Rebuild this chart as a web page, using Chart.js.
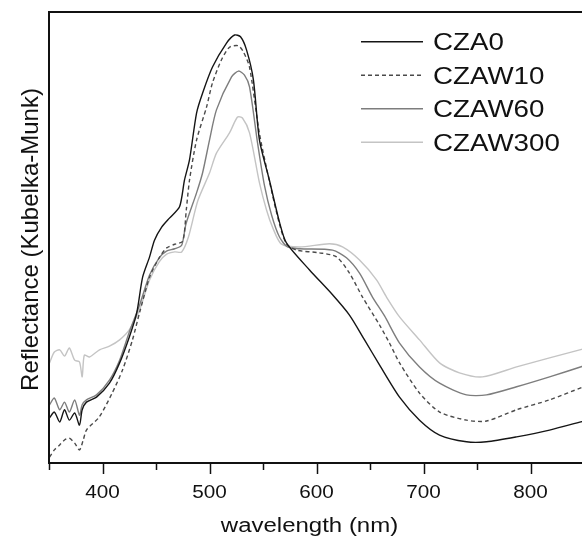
<!DOCTYPE html>
<html>
<head>
<meta charset="utf-8">
<script src="https://cdn.jsdelivr.net/npm/chart.js@4.4.0/dist/chart.umd.min.js"></script>
<style>
    html, body { margin: 0; padding: 0; background: #fff; overflow: hidden; }
    #wrap { width: 584px; height: 538px; }
</style>
</head>
<body>
<div id="wrap"><canvas id="myChart"></canvas></div>
<script>
"use strict";

// wavelength (nm) and reflectance (arbitrary units)
var labels = ['CZA0', 'CZAW10', 'CZAW60', 'CZAW300'];
var xTicks = [400, 500, 600, 700, 800];
var xTitle = 'wavelength (nm)';
var yTitle = 'Reflectance (Kubelka-Munk)';

var cza0X = [350.5, 355, 360, 364.5, 369, 374, 378.5, 381, 385, 394.4, 406.5, 416, 425, 432, 437.5, 444, 448.6, 455.3, 462.6, 472, 476.6, 481.3, 487.9, 493.5, 502.8, 515.9, 523.4, 529, 534.6, 541, 546.7, 556, 565.4, 571.9, 593.5, 615, 630.8, 644.9, 659, 677.6, 696.3, 715, 740.2, 758.9, 787, 817.8, 849.5];
var cza0Y = [10.0, 11.3, 9.1, 11.8, 9.5, 11.1, 8.4, 11.8, 13.5, 14.6, 17.7, 22.2, 27.9, 33.3, 41.2, 45.7, 49.4, 52.3, 54.3, 56.8, 62.7, 67.2, 77.6, 82.0, 87.8, 93.1, 94.9, 94.5, 91.6, 85.0, 71.6, 62.7, 53.4, 48.8, 42.8, 37.3, 32.8, 27.3, 21.7, 14.6, 9.5, 6.2, 4.7, 4.7, 5.8, 7.3, 9.3];

var czaw10X = [350.5, 355, 360, 364.5, 369, 374, 378.5, 382, 385, 397, 409, 418.7, 428, 434.6, 444, 453, 460, 467.5, 475, 478.3, 481.3, 487.9, 497.2, 502.8, 511.2, 518.7, 527.1, 531.8, 537.4, 546.7, 556, 565.4, 571.9, 581.3, 602.8, 618.7, 630.8, 643, 658.9, 668.2, 677.6, 696.3, 715, 740.2, 758.9, 787, 817.8, 849.5];
var czaw10Y = [1.3, 2.9, 4.0, 5.1, 5.5, 4.4, 2.9, 5.1, 7.3, 10.2, 15.5, 20.6, 27.3, 33.3, 41.2, 45.5, 47.7, 48.5, 49.2, 56.1, 62.7, 71.6, 78.9, 84.3, 89.4, 92.2, 92.5, 91.1, 87.8, 73.0, 62.5, 53.0, 48.6, 47.2, 46.6, 45.7, 42.1, 36.8, 30.6, 26.6, 22.2, 15.5, 11.3, 9.5, 9.3, 11.8, 14.0, 16.9];

var czaw60X = [350.5, 355, 360, 364.5, 369, 374, 378.5, 381, 385, 394.4, 406.5, 416, 425, 434.6, 444, 453, 459.8, 467.5, 474, 478, 487.9, 493.5, 500, 506.5, 520.6, 527.1, 532.7, 537.4, 544.9, 551.4, 558, 565.4, 572.9, 584.1, 615, 628, 640.2, 652.3, 663.6, 677.6, 696.3, 715, 740.2, 758.9, 787, 817.8, 849.5];
var czaw60Y = [12.9, 14.4, 11.8, 13.5, 11.3, 14.0, 10.6, 12.9, 14.0, 15.1, 18.4, 22.8, 29.0, 35.0, 41.7, 45.5, 47.0, 47.5, 48.3, 53.0, 59.9, 64.3, 71.6, 78.3, 85.6, 86.9, 86.0, 83.4, 71.0, 61.5, 55.0, 50.1, 47.9, 47.5, 47.2, 45.5, 42.1, 36.8, 32.6, 26.6, 21.3, 17.7, 15.1, 15.1, 16.9, 19.1, 21.5];

var czaw300X = [350.5, 355, 360, 364.5, 369, 374, 378.5, 381, 383, 387.9, 397.2, 406.5, 416, 425, 434.6, 444, 453, 460, 467.5, 474, 480.3, 489, 500, 506.5, 518.7, 526.2, 530.8, 537.4, 546.7, 553.3, 558.9, 567, 584.1, 612.1, 624.3, 640.2, 656.1, 665.4, 677.6, 696.3, 715, 733.6, 755.1, 787, 817.8, 849.5];
var czaw300Y = [22.2, 24.6, 25.1, 23.7, 25.5, 22.8, 22.4, 19.1, 23.9, 23.5, 25.1, 25.9, 27.3, 29.5, 33.9, 40.6, 44.6, 46.3, 46.8, 46.8, 50.1, 58.1, 64.3, 68.7, 73.2, 76.7, 76.5, 73.2, 62.1, 56.1, 52.3, 48.6, 47.9, 48.6, 47.9, 45.0, 40.6, 36.8, 32.4, 27.3, 22.2, 20.0, 19.1, 21.3, 23.3, 25.3];

function toPoints(xs, ys) {
    return xs.map(function (x, i) { return { x: x, y: ys[i] }; });
}

var FONT = '"Liberation Sans", Arial, sans-serif';

// text in the original figure is wider than Arial, so stretch it a little
function drawText(ctx, text, x, y, size, stretch, align, angle) {
    ctx.save();
    ctx.translate(x, y);
    if (angle) ctx.rotate(angle);
    ctx.scale(stretch, 1);
    ctx.font = size + 'px ' + FONT;
    ctx.textAlign = align;
    ctx.textBaseline = 'alphabetic';
    ctx.fillText(text, 0, 0);
    ctx.restore();
}

// frame, minor/major ticks, axis texts and the legend
var framePlugin = {
    id: 'frame',
    afterDraw: function (chart) {
        var ctx = chart.ctx;
        var a = chart.chartArea;
        var xs = chart.scales.x;
        ctx.save();
        ctx.strokeStyle = '#111';
        ctx.fillStyle = '#111';
        ctx.lineWidth = 2;
        ctx.beginPath();
        ctx.moveTo(a.left, a.bottom);
        ctx.lineTo(a.left, a.top);
        ctx.lineTo(a.right + 2, a.top);
        ctx.moveTo(a.left - 1, a.bottom);
        ctx.lineTo(a.right + 2, a.bottom);
        ctx.stroke();
        ctx.lineWidth = 1.5;
        for (var v = 350; v <= 850; v += 50) {
            var px = Math.round(xs.getPixelForValue(v)) + 0.5;
            var len = (v % 100 === 0) ? 11 : 7;
            ctx.beginPath();
            ctx.moveTo(px, a.bottom);
            ctx.lineTo(px, a.bottom + len);
            ctx.stroke();
        }

        xTicks.forEach(function (t) {
            drawText(ctx, String(t), xs.getPixelForValue(t), a.bottom + 35, 18.5, 1.12, 'center', 0);
        });
        drawText(ctx, xTitle, (a.left + a.right) / 2 - 7, 532, 20, 1.2, 'center', 0);
        drawText(ctx, yTitle, 37.5, (a.top + a.bottom) / 2 + 2, 24, 1.0, 'center', -Math.PI / 2);

        // legend
        chart.data.datasets.forEach(function (ds, i) {
            var y = 41.7 + i * 33.5;
            ctx.strokeStyle = ds.borderColor;
            ctx.lineWidth = ds.borderWidth;
            ctx.setLineDash(ds.borderDash || []);
            ctx.beginPath();
            ctx.moveTo(361, y);
            ctx.lineTo(423, y);
            ctx.stroke();
            ctx.setLineDash([]);
            drawText(ctx, ds.label, 433, y + 8.4, 23.3, 1.19, 'left', 0);
        });
        ctx.restore();
    }
};

var ctx = document.getElementById('myChart').getContext('2d');
var myChart = new Chart(ctx, {
    type: 'line',
    data: {
        datasets: [
            { label: labels[0], data: toPoints(cza0X, cza0Y), borderColor: '#151515', borderWidth: 1.4 },
            { label: labels[1], data: toPoints(czaw10X, czaw10Y), borderColor: '#4a4a4a', borderWidth: 1.4, borderDash: [4, 3] },
            { label: labels[2], data: toPoints(czaw60X, czaw60Y), borderColor: '#7d7d7d', borderWidth: 1.4 },
            { label: labels[3], data: toPoints(czaw300X, czaw300Y), borderColor: '#c4c4c4', borderWidth: 1.4 }
        ]
    },
    options: {
        responsive: true,
        maintainAspectRatio: false,
        animation: false,
        elements: {
            point: { radius: 0 },
            line: { tension: 0.25, fill: false }
        },
        layout: { padding: { top: 12, right: 0, left: 49, bottom: 75 } },
        plugins: {
            legend: { display: false },
            tooltip: { enabled: false }
        },
        scales: {
            x: { type: 'linear', min: 350, max: 850, display: false },
            y: { min: 0, max: 100, display: false }
        }
    },
    plugins: [framePlugin]
});
</script>
</body>
</html>
